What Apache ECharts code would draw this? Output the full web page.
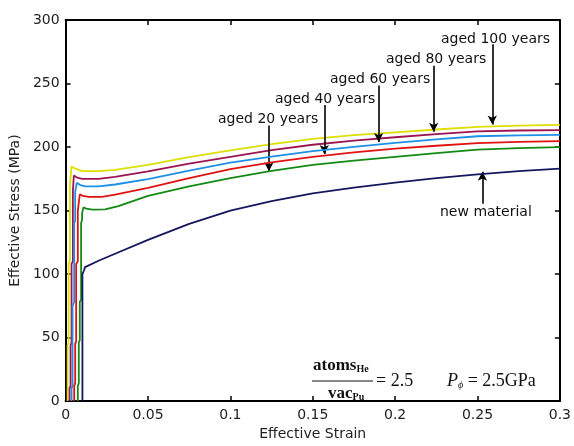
<!DOCTYPE html>
<html><head><meta charset="utf-8">
<script src="https://cdn.jsdelivr.net/npm/echarts@6/dist/echarts.min.js"></script>
<style>html,body{margin:0;padding:0;background:#fff}#c{width:574px;height:446px}</style>
</head><body><div id="c"></div>
<script>
var xTicks = [0, 0.05, 0.1, 0.15, 0.2, 0.25, 0.3];
var yTicks = [0, 50, 100, 150, 200, 250, 300];
var seriesNames = ['aged 100 years','aged 80 years','aged 60 years','aged 40 years','aged 20 years','new material'];
var aged100 = [[0.0012,0],[0.0012,44],[0.0018,46],[0.0018,108],[0.0026,110],[0.0026,170],[0.0036,184.6],[0.006,183],[0.01,181],[0.02,181],[0.03,182],[0.05,185.9],[0.075,192],[0.1,197.4],[0.125,202.3],[0.15,206.4],[0.175,209.3],[0.2,211.5],[0.225,213.8],[0.25,215.9],[0.275,216.8],[0.3,217.4]];
var aged80 = [[0.0024,0],[0.0024,10],[0.003,12],[0.003,44],[0.0036,46],[0.0036,108],[0.0044,110],[0.0044,165],[0.005,177.5],[0.007,176],[0.01,175],[0.02,175],[0.03,176.5],[0.05,180.8],[0.075,187],[0.1,192.3],[0.125,197.5],[0.15,201.8],[0.175,205],[0.2,207.7],[0.225,210.2],[0.25,212.3],[0.275,213],[0.3,213.3]];
var aged60 = [[0.0036,0],[0.0036,10],[0.0042,12],[0.0042,75],[0.0052,78],[0.0052,140],[0.0058,142],[0.0058,165],[0.0068,171.8],[0.009,170],[0.012,169],[0.02,169],[0.03,170.5],[0.05,174.8],[0.075,181.5],[0.1,187.7],[0.125,192.5],[0.15,196.7],[0.175,200.2],[0.2,203.3],[0.225,206],[0.25,208.5],[0.275,209.2],[0.3,209.5]];
var aged40 = [[0.0052,0],[0.0052,12],[0.0058,14],[0.0058,45],[0.0064,47],[0.0064,108],[0.0074,110],[0.0074,150],[0.0086,162.8],[0.0105,161.5],[0.014,160.8],[0.022,160.8],[0.03,162.5],[0.05,167.9],[0.075,175.5],[0.1,182.6],[0.125,188],[0.15,192.3],[0.175,195.8],[0.2,198.7],[0.225,201],[0.25,203],[0.275,204],[0.3,204.6]];
var aged20 = [[0.0074,0],[0.0074,12],[0.008,14],[0.008,46],[0.0086,48],[0.0086,78],[0.0094,80],[0.0094,140],[0.01,143],[0.01,148],[0.0108,152.5],[0.0125,151.5],[0.016,150.8],[0.024,151],[0.032,153.5],[0.05,161.5],[0.075,169],[0.1,175.6],[0.125,181.2],[0.15,185.9],[0.175,189.3],[0.2,192.3],[0.225,195.2],[0.25,198],[0.275,199.2],[0.3,200]];
var newMaterial = [[0.0102,0],[0.0102,100],[0.0112,103],[0.0118,105.5],[0.02,110.5],[0.03,116],[0.05,126.9],[0.075,139.5],[0.1,150],[0.125,157.5],[0.15,163.5],[0.175,168],[0.2,172],[0.225,175.5],[0.25,178.5],[0.275,181],[0.3,183]];
// annotation arrows: [x, yStart, yEnd]
var arrows = [[0.259,281,217.7],[0.2234,264,212],[0.190,248.5,204],[0.157,233,194.5],[0.1234,217,181],[0.253,155.4,180.5]];

var chart = echarts.init(document.getElementById('c'));
var FONT = 'DejaVu Sans';
var colors = ['#dcdf00','#9c1450','#1e8fe6','#e01212','#138a13','#16165e'];
var datasets = [aged100, aged80, aged60, aged40, aged20, newMaterial];
var series = datasets.map(function(d, i){
  return {name: seriesNames[i], type:'line', data:d, showSymbol:false, symbol:'none',
    lineStyle:{color:colors[i], width:1.8}, z: 3 + i, animation:false};
});
series.push({type:'line', data:[], markLine:{silent:true, symbol:['none','arrow'], symbolSize:[7,9],
  lineStyle:{color:'#000', width:1.6, type:'solid'}, label:{show:false},
  data: arrows.map(function(a){ return [{coord:[a[0],a[1]]},{coord:[a[0],a[2]]}]; })}, animation:false});

function axisCommon(){ return {min:0, axisLine:{show:true, onZero:false, lineStyle:{color:'#000', width:2}},
  axisTick:{show:true, inside:true, length:5, lineStyle:{color:'#000', width:1.5}},
  splitLine:{show:false}}; }
var lab = {color:'#222', fontFamily:FONT, fontSize:14};

chart.setOption({
  animation:false,
  grid:{left:62, right:11, top:20, bottom:36},
  xAxis:[
    Object.assign(axisCommon(), {type:'value', max:0.3, interval:0.05, position:'bottom',
      axisLabel:Object.assign({}, lab, {margin:7, formatter:function(v){ var t = xTicks.filter(function(k){return Math.abs(k-v)<1e-9;}); return t.length? String(t[0]) : ''; }}),
      name:'Effective Strain', nameLocation:'middle', nameGap:21, nameTextStyle:Object.assign({}, lab)}),
    Object.assign(axisCommon(), {type:'value', max:0.3, interval:0.05, position:'top', axisLabel:{show:false}})
  ],
  yAxis:[
    Object.assign(axisCommon(), {type:'value', max:300, interval:50, position:'left',
      axisLabel:Object.assign({}, lab, {margin:6, formatter:function(v){ return yTicks.indexOf(v) >= 0 ? String(v) : ''; }}),
      name:'Effective Stress (MPa)', nameLocation:'middle', nameGap:37, nameTextStyle:Object.assign({}, lab)}),
    Object.assign(axisCommon(), {type:'value', max:300, interval:50, position:'right', axisLabel:{show:false}})
  ],
  series: series,
  graphic:[
    {type:'text', left:441, top:32, style:{text:'aged 100 years', font:'14px "DejaVu Sans"', fill:'#111'}},
    {type:'text', left:386, top:52, style:{text:'aged 80 years', font:'14px "DejaVu Sans"', fill:'#111'}},
    {type:'text', left:330, top:72, style:{text:'aged 60 years', font:'14px "DejaVu Sans"', fill:'#111'}},
    {type:'text', left:275, top:92, style:{text:'aged 40 years', font:'14px "DejaVu Sans"', fill:'#111'}},
    {type:'text', left:218, top:112, style:{text:'aged 20 years', font:'14px "DejaVu Sans"', fill:'#111'}},
    {type:'text', left:440, top:205, style:{text:'new material', font:'14px "DejaVu Sans"', fill:'#111'}},
    {type:'text', left:313, top:357, style:{rich:{a:{font:'bold 17px "Liberation Serif"', fill:'#111'}, s:{font:'bold 10px "Liberation Serif"', fill:'#111', padding:[8,0,0,0]}}, text:'{a|atoms}{s|He}'}},
    {type:'line', shape:{x1:312, y1:381, x2:373, y2:381}, style:{stroke:'#111', lineWidth:1.2}},
    {type:'text', left:328, top:385, style:{rich:{a:{font:'bold 17px "Liberation Serif"', fill:'#111'}, s:{font:'bold 10px "Liberation Serif"', fill:'#111', padding:[8,0,0,0]}}, text:'{a|vac}{s|Pu}'}},
    {type:'text', left:376, top:372, style:{text:'= 2.5', font:'18px "Liberation Serif"', fill:'#111'}},
    {type:'text', left:447, top:372, style:{rich:{p:{font:'italic 18px "Liberation Serif"', fill:'#111'}, s:{font:'italic 10px "Liberation Serif"', fill:'#111', padding:[9,0,0,0]}, r:{font:'18px "Liberation Serif"', fill:'#111'}}, text:'{p|P}{s|ϕ}{r| = 2.5GPa}'}}
  ]
});
</script></body></html>
